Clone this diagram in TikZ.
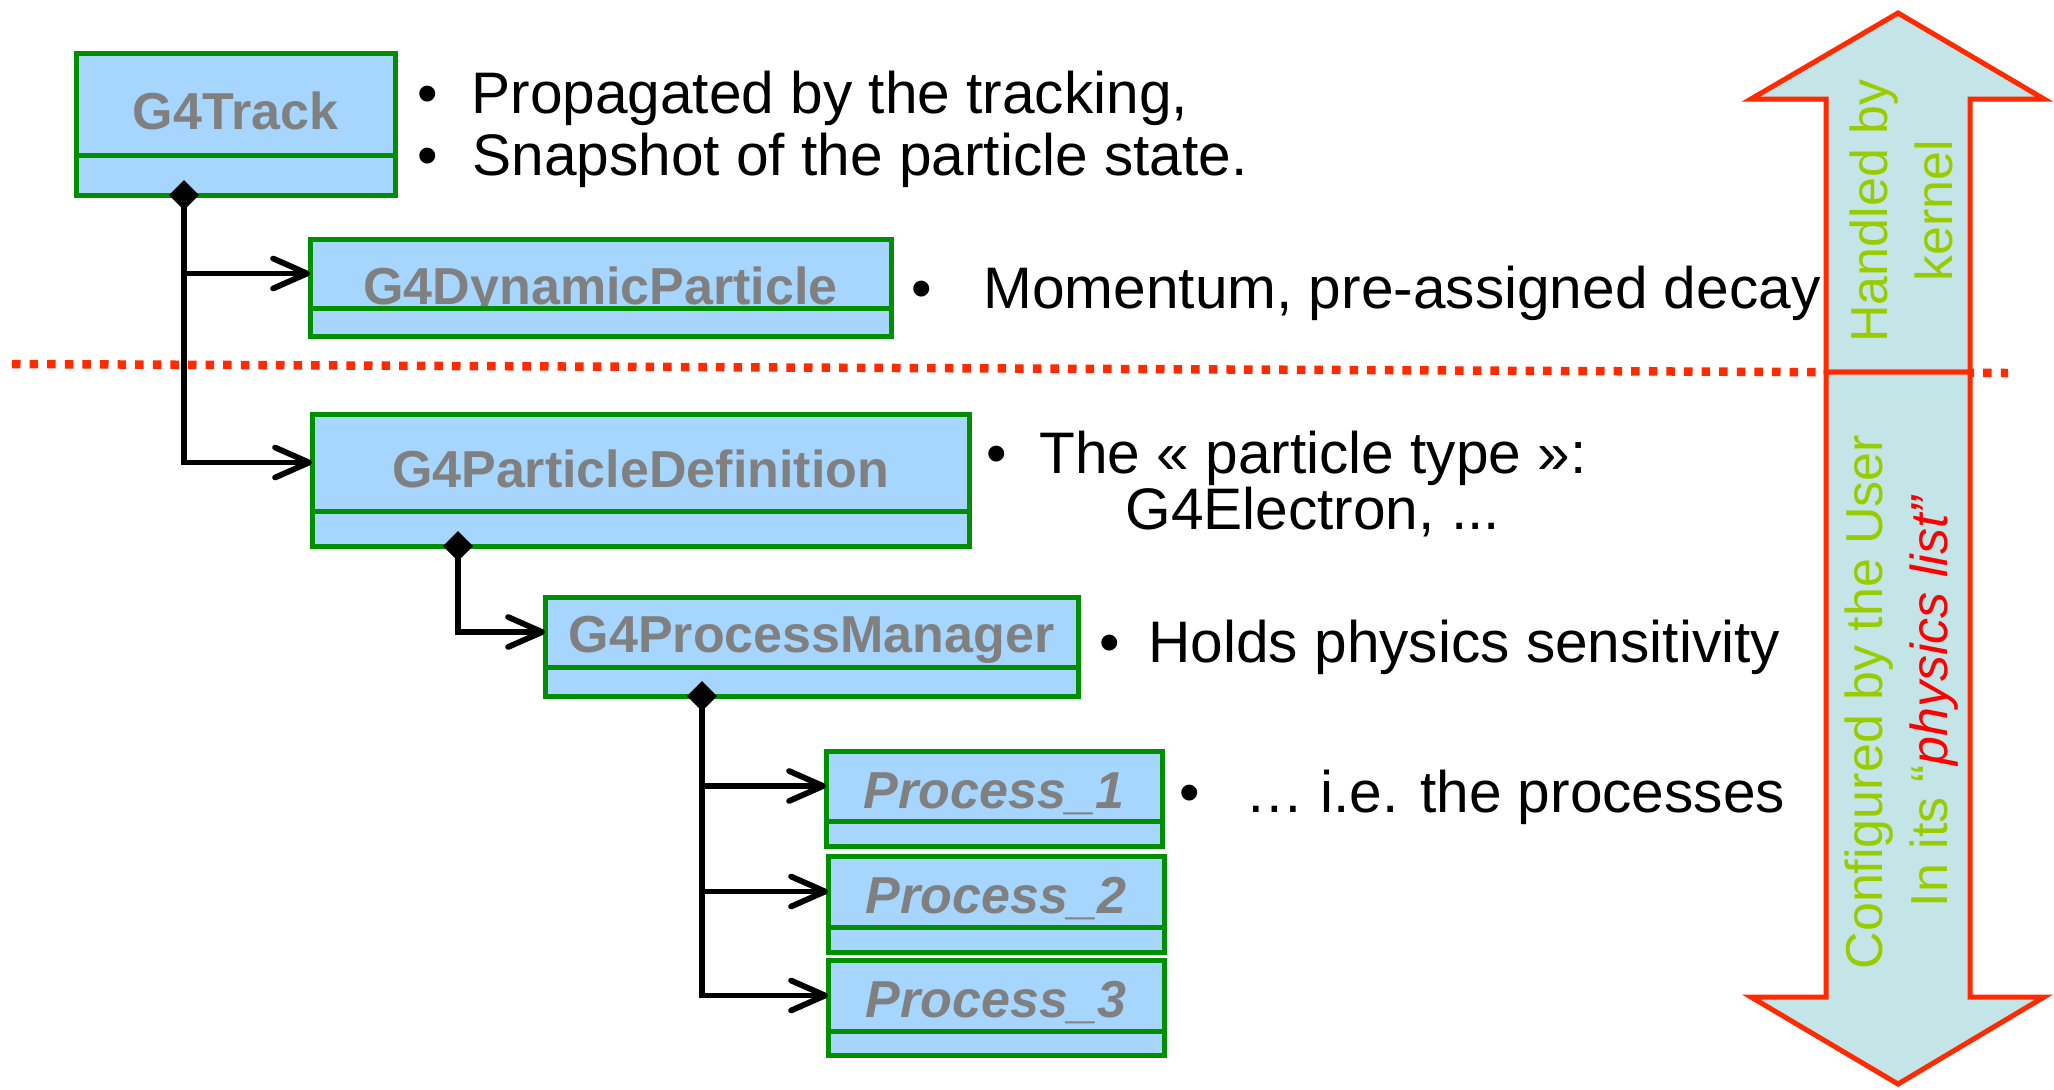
\documentclass[tikz,border=0pt]{standalone}
\usepackage{fontspec}
\setmainfont{Liberation Sans}
\usetikzlibrary{arrows.meta}
\definecolor{boxblue}{HTML}{A6D5FE}
\definecolor{boxgreen}{HTML}{008F00}
\definecolor{arrowfill}{HTML}{C4E5E8}
\definecolor{arrowred}{HTML}{FF2A00}
\definecolor{kernelgreen}{HTML}{99CC00}
\begin{document}
\begin{tikzpicture}[x=0.5pt,y=-0.5pt,>={Straight Barb[length=17pt,width=15pt,round]},
    cls/.style={draw=boxgreen,fill=boxblue,line width=2.5pt,inner sep=0pt,outer sep=0pt,anchor=north west,
        text=gray,text depth=0pt,font=\fontsize{26pt}{30pt}\selectfont\bfseries},
    clslow/.style={draw=boxgreen,fill=boxblue,line width=2.5pt,inner sep=0pt,outer sep=0pt,anchor=north west},
    link/.style={line width=2.9pt},
    bul/.style={inner sep=0pt,anchor=base,font=\fontsize{29.3pt}{34pt}\selectfont},
    txt/.style={inner sep=0pt,anchor=base west,font=\fontsize{29.3pt}{34pt}\selectfont},
    side/.style={rotate=90,align=center,inner sep=0pt,text=kernelgreen,font=\fontsize{26pt}{32.5pt}\selectfont},
    big/.style={draw=arrowred,fill=arrowfill,line width=2.5pt}]
    \useasboundingbox (0,0) rectangle (2054,1089);
    \draw[arrowred,line width=4.25pt,dash pattern=on 4.25pt off 4.55pt](12,364)--(2008,373);
    \draw[big](1826,372)--(1826,99)--(1751,99)--(1898,13)--(2044,99)--(1970,99)--(1970,372)--cycle;
    \draw[big](1826,372)--(1826,997)--(1751,997)--(1898,1084)--(2044,997)--(1970,997)--(1970,372)--cycle;
    \node[side] (kern) at (1901,211){Handled by\\kernel};
    \node[side] (user) at (1902,702){Configured by the User\\In its “\textcolor{red}{\itshape physics list”}};
    \node[cls,minimum width=159.5pt,minimum height=51pt,text height=25pt] (trk) at (76,53){G4Track};
    \node[clslow,minimum width=159.5pt,minimum height=20pt] (trklow) at (trk.south west){};
    \node[cls,minimum width=290.5pt,minimum height=34.5pt,text height=31pt] (dyn) at (310,239){G4DynamicParticle};
    \node[clslow,minimum width=290.5pt,minimum height=14pt] (dynlow) at (dyn.south west){};
    \node[cls,minimum width=328.5pt,minimum height=48.5pt,text height=25pt] (pdef) at (312,414){G4ParticleDefinition};
    \node[clslow,minimum width=328.5pt,minimum height=17.5pt] (pdeflow) at (pdef.south west){};
    \node[cls,minimum width=266.5pt,minimum height=35pt,text height=20pt] (pmgr) at (545,597){G4ProcessManager};
    \node[clslow,minimum width=266.5pt,minimum height=14.5pt] (pmgrlow) at (pmgr.south west){};
    \node[cls,minimum width=168pt,minimum height=35pt,text height=22pt] (proc1) at (826,751){\itshape Process\_1};
    \node[clslow,minimum width=168pt,minimum height=12.5pt] (proc1low) at (proc1.south west){};
    \node[cls,minimum width=168pt,minimum height=35.5pt,text height=22pt] (proc2) at (828,856){\itshape Process\_2};
    \node[clslow,minimum width=168pt,minimum height=12.5pt] (proc2low) at (proc2.south west){};
    \node[cls,minimum width=168pt,minimum height=35.5pt,text height=22pt] (proc3) at (828,960){\itshape Process\_3};
    \node[clslow,minimum width=168pt,minimum height=12pt] (proc3low) at (proc3.south west){};
    \coordinate (trkfork) at ([shift={(54pt,-7.5pt)}]trklow.south west);
    \coordinate (pmgrfork) at ([shift={(78.5pt,-7.5pt)}]pmgrlow.south west);
    \draw[link,{Diamond[length=15pt,width=15pt]}->]([shift={(54pt,7.5pt)}]trklow.south west)|-(dyn.west);
    \draw[link,->](trkfork)|-(pdef.west);
    \draw[link,{Diamond[length=15pt,width=15pt]}->]([shift={(73pt,7.5pt)}]pdeflow.south west)|-(pmgr.west);
    \draw[link,{Diamond[length=15pt,width=15pt]}->]([shift={(78.5pt,7.5pt)}]pmgrlow.south west)|-(proc1.west);
    \draw[link,->](pmgrfork)|-(proc2.west);
    \draw[link,->](pmgrfork)|-(proc3.west);
    \node[bul] (b1) at (428,113){•};
    \node[txt] (t1) at (471,113){Propagated by the tracking,};
    \node[bul] (b2) at (428,175){•};
    \node[txt] (t2) at (472,175){Snapshot of the particle state.};
    \node[bul] (b3) at (922,308){•};
    \node[txt] (t3) at (983,308){Momentum, pre-assigned decay};
    \node[bul] (b4) at (997,473){•};
    \node[txt] (t4) at (1039,473){The « particle type »:};
    \node[txt] (t5) at (1125,529){G4Electron, ...};
    \node[bul] (b6) at (1110,662){•};
    \node[txt] (t6) at (1148,662){Holds physics sensitivity};
    \node[bul] (b7) at (1190,812){•};
    \node[txt] (t7) at (1245,812){… i.e. the processes};
\end{tikzpicture}
\end{document}
